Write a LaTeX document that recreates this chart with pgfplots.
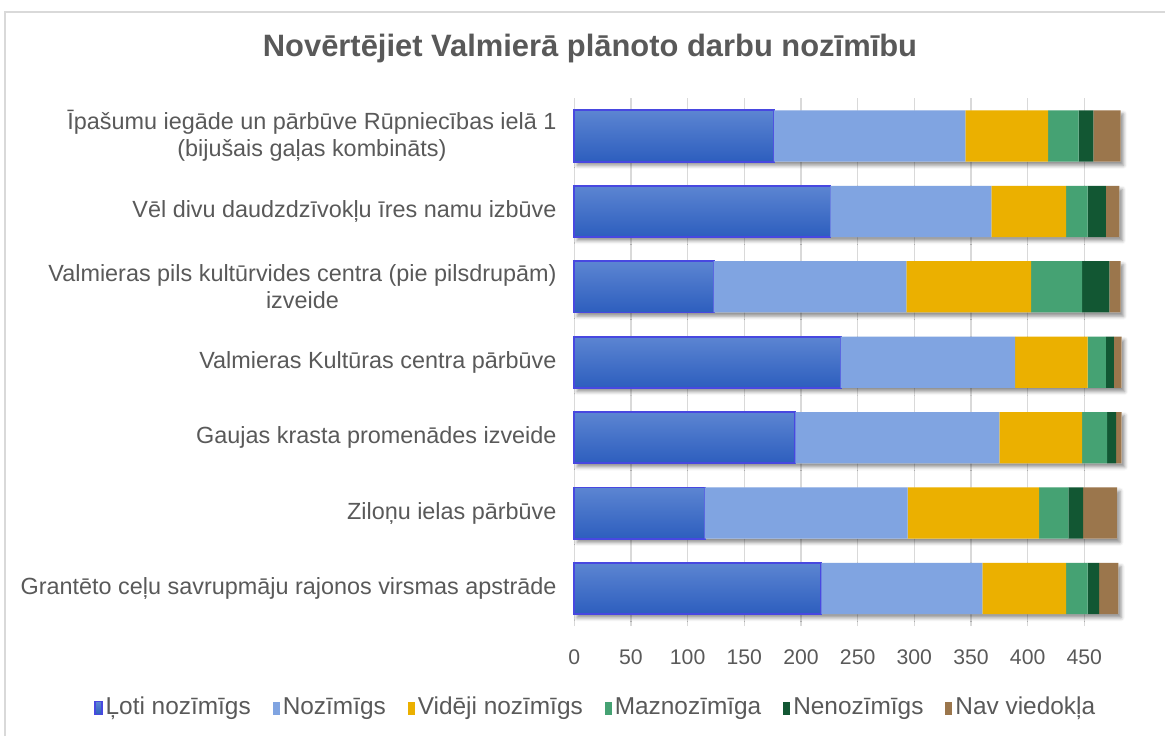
\documentclass[border=0pt]{standalone}
\usepackage{fontspec}
\setmainfont{Liberation Sans}
\usepackage{pgfplots}
\pgfplotsset{compat=1.18}
\usetikzlibrary{shadows.blur}
\definecolor{txt}{HTML}{595959}
\definecolor{gridc}{HTML}{D9D9D9}
\definecolor{c1t}{HTML}{5C85D2}
\definecolor{c1b}{HTML}{2D5EBE}
\definecolor{c1d}{HTML}{4848E0}
\definecolor{c2}{HTML}{80A4E1}
\definecolor{c3}{HTML}{EBB000}
\definecolor{c4}{HTML}{45A273}
\definecolor{c5}{HTML}{125733}
\definecolor{c6}{HTML}{9B764C}
\pgfplotsset{blue bar/.style={top color=c1t, bottom color=c1b, draw=c1d, line width=0.9pt}}
\begin{document}
\begin{tikzpicture}
\useasboundingbox (0,0) rectangle (582.5pt,-368pt);
\draw[gridc, line width=0.8pt] (2.5pt,-368pt) -- (2.5pt,-6pt) -- (582.5pt,-6pt);
\node[font=\fontsize{15.45}{18}\selectfont\bfseries, text=txt] at (295pt,-24.3pt) {Novērtējiet Valmierā plānoto darbu nozīmību};
% grid, shadows and the first (gradient) series, one bar per plot
\begin{axis}[
  at={(287.15pt,-49.15pt)}, anchor=north west,
  scale only axis, width=274.85pt, height=263.95pt,
  xmin=0, xmax=485, ymin=-0.5, ymax=6.5,
  xbar, bar width=0.68,
  xtick={0,50,...,450}, xticklabels={}, ytick=\empty,
  xmajorgrids, grid style={draw=gridc, line width=0.6pt},
  axis line style={draw=none}, major tick length=0pt,
  clip=false,
]
\addplot[bar shift=0pt, fill=white, draw=none, blur shadow={shadow xshift=1.4pt, shadow yshift=-1.8pt, shadow blur radius=1.8pt, shadow opacity=45}]
 coordinates {(480,0) (479,1) (483,2) (483,3) (482,4) (481,5) (482,6)};
\addplot[bar shift=0pt, blue bar] coordinates {(218,0)};
\addplot[bar shift=0pt, blue bar] coordinates {(115,1)};
\addplot[bar shift=0pt, blue bar] coordinates {(195,2)};
\addplot[bar shift=0pt, blue bar] coordinates {(235,3)};
\addplot[bar shift=0pt, blue bar] coordinates {(123,4)};
\addplot[bar shift=0pt, blue bar] coordinates {(226,5)};
\addplot[bar shift=0pt, blue bar] coordinates {(176,6)};
\end{axis}
% stacked series
\begin{axis}[
  at={(287.15pt,-49.15pt)}, anchor=north west,
  scale only axis, width=274.85pt, height=263.95pt,
  xmin=0, xmax=485, ymin=-0.5, ymax=6.5,
  xbar stacked, bar width=0.68,
  xtick={0,50,...,450}, ytick={0,...,6},
  /pgf/number format/assume math mode=true,
  yticklabels={
    {Grantēto ceļu savrupmāju rajonos virsmas apstrāde},
    {Ziloņu ielas pārbūve},
    {Gaujas krasta promenādes izveide},
    {Valmieras Kultūras centra pārbūve},
    {Valmieras pils kultūrvides centra (pie pilsdrupām)\\izveide},
    {Vēl divu daudzdzīvokļu īres namu izbūve},
    {Īpašumu iegāde un pārbūve Rūpniecības ielā 1\\(bijušais gaļas kombināts)}},
  yticklabel style={font=\fontsize{11.7}{13.5}\selectfont, text=txt, align=center, inner sep=0pt, xshift=-8.7pt},
  xticklabel style={font=\fontsize{10.6}{12}\selectfont, text=txt, inner sep=0pt, yshift=-11.5pt},
  axis line style={draw=none}, major tick length=0pt,
  clip=false,
  legend style={at={(0.0395,-0.155)}, anchor=center, draw=none, fill=none,
    font=\fontsize{12.2}{14}\selectfont, text=txt, legend columns=-1,
    nodes={inner sep=1.5pt, text height=9pt, text depth=3pt},
    /tikz/every even column/.append style={column sep=9.5pt}},
  legend image code/.code={\fill[#1] (0pt,-3.25pt) rectangle (3.5pt,3.25pt);},
]
\addplot[draw=none, fill=none, forget plot]
 coordinates {(218,0) (115,1) (195,2) (235,3) (123,4) (226,5) (176,6)};
\addlegendimage{blue bar}
\addplot[fill=c2, draw=none]
 coordinates {(142,0) (179,1) (180,2) (154,3) (170,4) (142,5) (169,6)};
\addplot[fill=c3, draw=none]
 coordinates {(74,0) (116,1) (73,2) (64,3) (110,4) (66,5) (73,6)};
\addplot[fill=c4, draw=none]
 coordinates {(19,0) (26,1) (22,2) (16,3) (45,4) (19,5) (27,6)};
\addplot[fill=c5, draw=none]
 coordinates {(10,0) (13,1) (8,2) (7,3) (24,4) (16,5) (13,6)};
\addplot[fill=c6, draw=none]
 coordinates {(17,0) (30,1) (5,2) (7,3) (10,4) (12,5) (24,6)};
\legend{Ļoti nozīmīgs, Nozīmīgs, Vidēji nozīmīgs, Maznozīmīga, Nenozīmīgs, Nav viedokļa}
\end{axis}
\end{tikzpicture}
\end{document}
